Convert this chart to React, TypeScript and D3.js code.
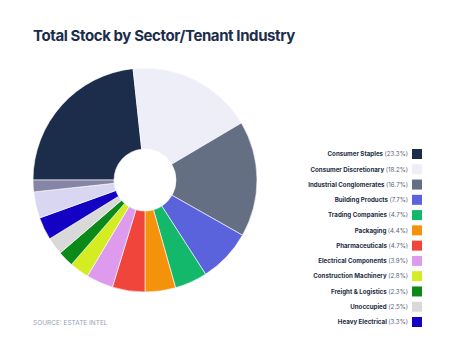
import React, {useRef, useEffect} from 'react'
import * as d3 from 'd3'

const categories = [
  'Consumer Staples',
  'Consumer Discretionary',
  'Industrial Conglomerates',
  'Building Products',
  'Trading Companies',
  'Packaging',
  'Pharmaceuticals',
  'Electrical Components',
  'Construction Machinery',
  'Freight & Logistics',
  'Unoccupied',
  'Heavy Electrical',
  'Other',
  'Other (minor)',
]
const shares = [23.3, 18.2, 16.7, 7.7, 4.7, 4.4, 4.7, 3.9, 2.8, 2.3, 2.5, 3.3, 3.8, 1.7]
const colors = [
  '#1b2d4b',
  '#eeeef9',
  '#646f83',
  '#5a63dc',
  '#14b86a',
  '#f5920c',
  '#f0453a',
  '#de9aec',
  '#d4ec22',
  '#0b8a1a',
  '#d9d9d9',
  '#1302c4',
  '#d8d6f0',
  '#8785a6',
]
// only the first 12 are listed in the legend
const legendCount = 12

const W = 463
const H = 360

function App() {
  const ref: any = useRef<SVGSVGElement>(null)

  useEffect(() => {
    const svg = d3.select(ref.current)
    svg.selectAll('*').remove()

    const rows = categories.map((c, i) => ({name: c, value: shares[i], color: colors[i]}))

    svg
      .append('text')
      .attr('x', 33)
      .attr('y', 41)
      .attr('font-family', 'Inter, sans-serif')
      .attr('font-weight', 700)
      .attr('font-size', 15)
      .attr('letter-spacing', -0.4)
      .attr('fill', '#1b2d4b')
      .text('Total Stock by Sector/Tenant Industry')

    const pie = d3
      .pie<any>()
      .sort(null)
      .value((d: any) => d.value)
      .startAngle(-Math.PI / 2)
      .endAngle((3 * Math.PI) / 2)

    const arc = d3.arc<any>().innerRadius(31).outerRadius(112)

    const g = svg.append('g').attr('transform', 'translate(145,180)')
    g.selectAll('path')
      .data(pie(rows))
      .enter()
      .append('path')
      .attr('d', arc)
      .attr('fill', (d: any) => d.data.color)
      .attr('stroke', '#fff')
      .attr('stroke-width', 0.6)

    // legend
    const y = d3
      .scalePoint()
      .domain(categories.slice(0, legendCount))
      .range([154, 322])

    const leg = svg
      .append('g')
      .selectAll('g')
      .data(rows.slice(0, legendCount))
      .enter()
      .append('g')
      .attr('transform', (d: any) => `translate(0,${y(d.name)})`)

    leg
      .append('rect')
      .attr('x', 412)
      .attr('y', -5)
      .attr('width', 10)
      .attr('height', 10)
      .attr('fill', (d: any) => d.color)

    const t = leg
      .append('text')
      .attr('x', 408)
      .attr('y', 2.3)
      .attr('text-anchor', 'end')
      .attr('font-family', 'Inter, sans-serif')
      .attr('font-size', 6.2)
      .attr('fill', '#222c42')
    t.append('tspan')
      .attr('font-weight', 700)
      .text((d: any) => d.name + ' ')
    t.append('tspan')
      .attr('font-weight', 400)
      .attr('fill', '#5b6478')
      .text((d: any) => `(${d.value}%)`)

    svg
      .append('text')
      .attr('x', 33)
      .attr('y', 325)
      .attr('font-family', 'Inter, sans-serif')
      .attr('font-size', 6.5)
      .attr('fill', '#9aa0b3')
      .text('SOURCE: ESTATE INTEL')
  }, [])

  return <svg ref={ref} width={W} height={H} style={{display: 'block', position: 'absolute', left: 0, top: 0, background: '#fff'}} />
}

export default App
